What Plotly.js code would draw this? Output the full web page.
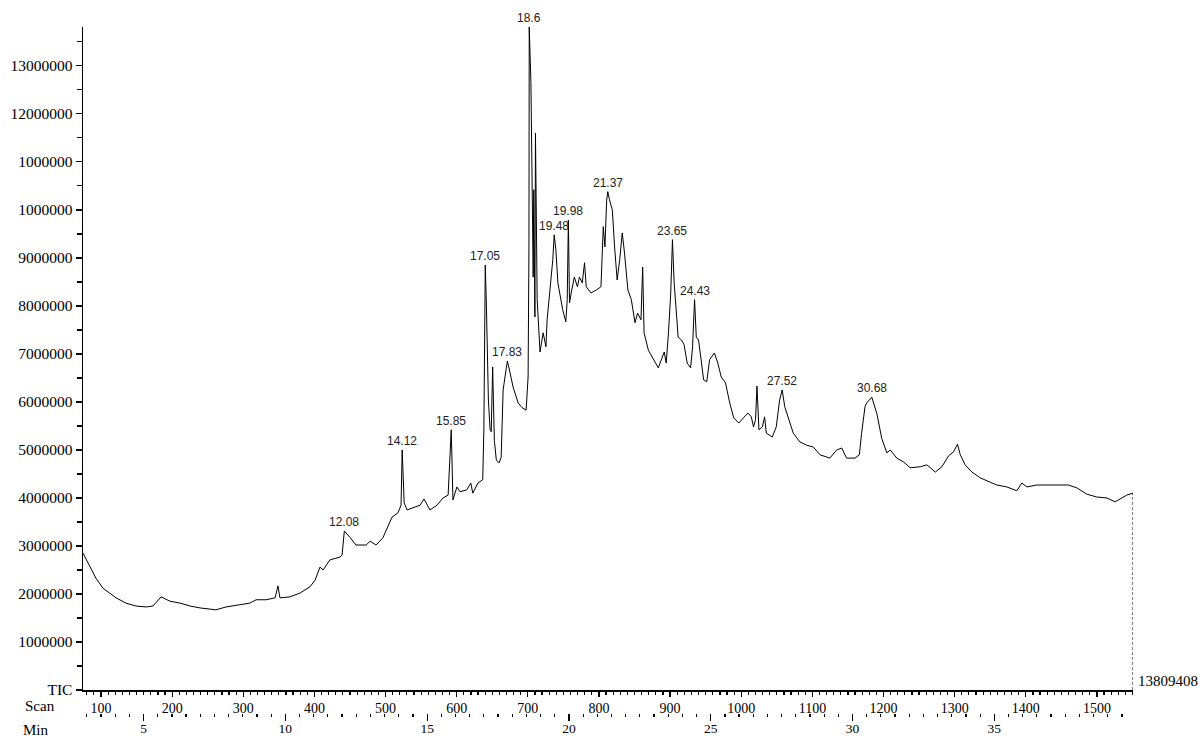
<!DOCTYPE html>
<html>
<head>
<meta charset="utf-8">
<script src="https://cdn.plot.ly/plotly-3.0.1.min.js"></script>
<style>html,body{margin:0;padding:0;background:#fff;}#chart{width:1202px;height:738px;}</style>
</head>
<body>
<div id="chart"></div>
<script>
// Retention time (min)
const minutes = [2.865,3.11,3.32,3.57,3.81,4.03,4.38,4.73,5.09,5.33,5.62,5.93,6.29,6.64,6.99,7.20,7.55,7.91,8.40,8.75,8.97,9.32,9.64,9.74,9.81,10.16,10.52,10.87,11.05,11.22,11.33,11.57,11.93,12.00,12.08,12.28,12.49,12.63,12.85,12.99,13.20,13.44,13.62,13.76,13.97,14.08,14.12,14.19,14.29,14.50,14.75,14.89,15.10,15.35,15.56,15.74,15.85,15.91,16.05,16.16,16.40,16.54,16.61,16.79,16.96,17.00,17.05,17.09,17.16,17.22,17.26,17.31,17.37,17.44,17.54,17.61,17.68,17.79,17.83,17.92,18.03,18.21,18.35,18.49,18.56,18.59,18.60,18.66,18.68,18.74,18.76,18.80,18.82,18.88,18.98,19.09,19.19,19.23,19.33,19.43,19.48,19.54,19.61,19.78,19.89,19.94,19.98,20.02,20.08,20.19,20.30,20.37,20.47,20.55,20.61,20.78,20.96,21.13,21.21,21.27,21.33,21.37,21.43,21.53,21.61,21.70,21.79,21.88,21.96,22.08,22.20,22.33,22.42,22.54,22.60,22.65,22.80,22.86,22.98,23.15,23.36,23.43,23.51,23.59,23.65,23.71,23.80,23.85,23.97,24.06,24.17,24.29,24.36,24.43,24.49,24.57,24.66,24.75,24.86,24.96,25.13,25.25,25.37,25.52,25.67,25.81,25.99,26.19,26.31,26.43,26.51,26.58,26.63,26.70,26.82,26.90,26.96,27.17,27.31,27.43,27.52,27.61,27.73,27.91,28.14,28.38,28.62,28.85,29.20,29.44,29.62,29.79,30.09,30.24,30.32,30.44,30.50,30.68,30.86,31.03,31.21,31.33,31.56,31.80,32.03,32.39,32.62,32.92,33.15,33.39,33.56,33.70,33.80,33.97,34.21,34.50,34.85,35.09,35.44,35.79,35.97,36.15,36.50,36.85,37.20,37.61,37.91,38.26,38.61,38.97,39.26,39.44,39.67,39.89];
// Total ion current (millions of counts)
const ticMillions = [2.85,2.56,2.33,2.12,2.02,1.92,1.81,1.75,1.73,1.75,1.94,1.85,1.81,1.75,1.71,1.69,1.67,1.73,1.77,1.81,1.88,1.88,1.92,2.17,1.92,1.94,2.02,2.15,2.29,2.56,2.50,2.71,2.77,2.81,3.31,3.18,3.02,3.02,3.02,3.10,3.02,3.17,3.40,3.60,3.69,3.85,5.00,3.90,3.75,3.79,3.85,3.98,3.75,3.85,4.00,4.06,5.42,3.96,4.23,4.13,4.17,4.31,4.10,4.31,4.38,5.42,8.85,8.00,6.04,5.42,5.38,6.73,5.20,4.79,4.73,4.85,6.25,6.70,6.85,6.62,6.31,5.98,5.88,5.83,6.52,9.23,13.809408,12.65,11.53,8.60,10.42,7.77,11.60,8.13,7.04,7.44,7.15,7.71,8.33,8.96,9.48,9.17,8.48,7.92,7.67,8.13,9.79,8.06,8.27,8.60,8.40,8.60,8.48,8.90,8.40,8.27,8.33,8.40,9.65,9.23,10.20,10.38,10.21,10.00,9.23,8.54,8.96,9.52,9.10,8.33,8.13,7.65,7.85,7.71,8.81,7.44,7.08,7.02,6.88,6.71,7.04,6.81,7.44,8.27,9.38,8.48,7.77,7.35,7.29,7.19,6.81,6.71,7.15,8.13,7.35,7.29,6.88,6.46,6.42,6.88,7.02,6.81,6.52,6.40,5.98,5.67,5.56,5.69,5.77,5.69,5.48,5.63,6.33,5.42,5.48,5.69,5.35,5.27,5.48,6.04,6.25,5.90,5.69,5.35,5.17,5.10,5.06,4.90,4.83,5.00,5.04,4.83,4.83,4.90,5.35,5.90,5.98,6.10,5.75,5.24,4.94,5.00,4.83,4.75,4.63,4.65,4.69,4.54,4.65,4.88,4.96,5.12,4.90,4.69,4.54,4.42,4.33,4.27,4.23,4.15,4.31,4.23,4.27,4.27,4.27,4.27,4.21,4.08,4.02,4.00,3.92,3.98,4.06,4.10];
// Labelled peaks (min)
const peakLabels = ['12.08','14.12','15.85','17.05','17.83','18.6','19.48','19.98','21.37','23.65','24.43','27.52','30.68'];
// Y tick values and their printed labels (as in the original)
const yTickValues = [0,1000000,2000000,3000000,4000000,5000000,6000000,7000000,8000000,9000000,10000000,11000000,12000000,13000000];
const yTickText = ['TIC','1000000','2000000','3000000','4000000','5000000','6000000','7000000','8000000','9000000','1000000','1000000','12000000','13000000'];
// Axis ranges
const minRange = [2.865, 39.89];
const scanRange = [74.7, 1550.7];

const tic = ticMillions.map(v => v * 1e6);
const yMax = Math.max(...tic);

const serif = 'Liberation Serif, Times New Roman, serif';
const sans = 'Liberation Sans, Arial, sans-serif';

const annotations = peakLabels.map(lbl => {
  const t = parseFloat(lbl);
  let best = 0;
  minutes.forEach((m, i) => { if (Math.abs(m - t) < Math.abs(minutes[best] - t)) best = i; });
  return {x: t, y: tic[best], xref: 'x', yref: 'y', text: lbl, showarrow: false,
          xanchor: 'center', yanchor: 'bottom', yshift: 0,
          font: {family: sans, size: 12, color: '#222'}};
});
annotations.push({xref: 'paper', yref: 'y', x: 1, y: 0, xshift: 3, yshift: 9, xanchor: 'left', yanchor: 'middle',
  text: String(Math.round(yMax)), showarrow: false, font: {family: serif, size: 15, color: '#000'}});
annotations.push({xref: 'paper', yref: 'paper', x: 0, y: 0, xshift: -43, yshift: 7, xanchor: 'center', yanchor: 'middle',
  text: 'Scan', showarrow: false, font: {family: serif, size: 15, color: '#000'}});
annotations.push({xref: 'paper', yref: 'paper', x: 0, y: 0, xshift: -47, yshift: -17, xanchor: 'center', yanchor: 'middle',
  text: 'Min', showarrow: false, font: {family: serif, size: 15, color: '#000'}});

const lastT = minutes[minutes.length - 1];
const lastV = tic[tic.length - 1];

const data = [
  {type: 'scatter', mode: 'lines', x: minutes, y: tic, xaxis: 'x', yaxis: 'y',
   line: {color: '#000', width: 1}, hoverinfo: 'skip', showlegend: false},
  // invisible helper so the scan axis is drawn
  {type: 'scatter', mode: 'lines', x: scanRange, y: [0, 0], xaxis: 'x2', yaxis: 'y',
   line: {color: 'rgba(0,0,0,0)', width: 0}, opacity: 0, hoverinfo: 'skip', showlegend: false}
];

const layout = {
  width: 1202, height: 738,
  margin: {l: 83, r: 69, t: 27, b: 25},
  paper_bgcolor: '#fff', plot_bgcolor: '#fff',
  showlegend: false,
  xaxis: {
    anchor: 'free', position: 0, range: minRange, showline: false, showgrid: false, zeroline: false,
    tickmode: 'linear', tick0: 0, dtick: 5, ticks: 'outside', ticklen: 7, tickwidth: 1.2, tickcolor: '#000',
    ticklabelstandoff: -4,
    minor: {tickmode: 'linear', tick0: 0, dtick: 0.5, ticks: 'outside', ticklen: 3, tickwidth: 1.2, tickcolor: '#000', showgrid: false},
    tickfont: {family: serif, size: 13.5, color: '#000'}, fixedrange: true
  },
  xaxis2: {
    overlaying: 'x', anchor: 'y', side: 'bottom', range: scanRange, showline: true, linecolor: '#000', linewidth: 1.5,
    showgrid: false, zeroline: false,
    tickmode: 'linear', tick0: 0, dtick: 100, ticks: 'outside', ticklen: 5, tickwidth: 1.2, tickcolor: '#000',
    minor: {tickmode: 'linear', tick0: 0, dtick: 10, ticks: 'outside', ticklen: 3, tickwidth: 1.2, tickcolor: '#000', showgrid: false},
    tickfont: {family: serif, size: 14, color: '#000'}, fixedrange: true
  },
  yaxis: {
    anchor: 'x', domain: [0.0335, 1], range: [0, yMax], showline: true, linecolor: '#000', linewidth: 1.5,
    showgrid: false, zeroline: false,
    tickmode: 'array', tickvals: yTickValues, ticktext: yTickText,
    ticks: 'outside', ticklen: 6, tickwidth: 1.2, tickcolor: '#000',
    minor: {tickmode: 'linear', tick0: 0, dtick: 500000, ticks: 'outside', ticklen: 5, tickwidth: 1.2, tickcolor: '#000', showgrid: false},
    tickfont: {family: serif, size: 15.5, color: '#000'}, fixedrange: true
  },
  shapes: [{type: 'line', xref: 'x', yref: 'y', x0: lastT, x1: lastT, y0: 0, y1: lastV,
            line: {color: '#000', width: 1, dash: '3px,2px'}}],
  annotations: annotations
};

Plotly.newPlot('chart', data, layout, {staticPlot: true, displayModeBar: false});
</script>
</body>
</html>
